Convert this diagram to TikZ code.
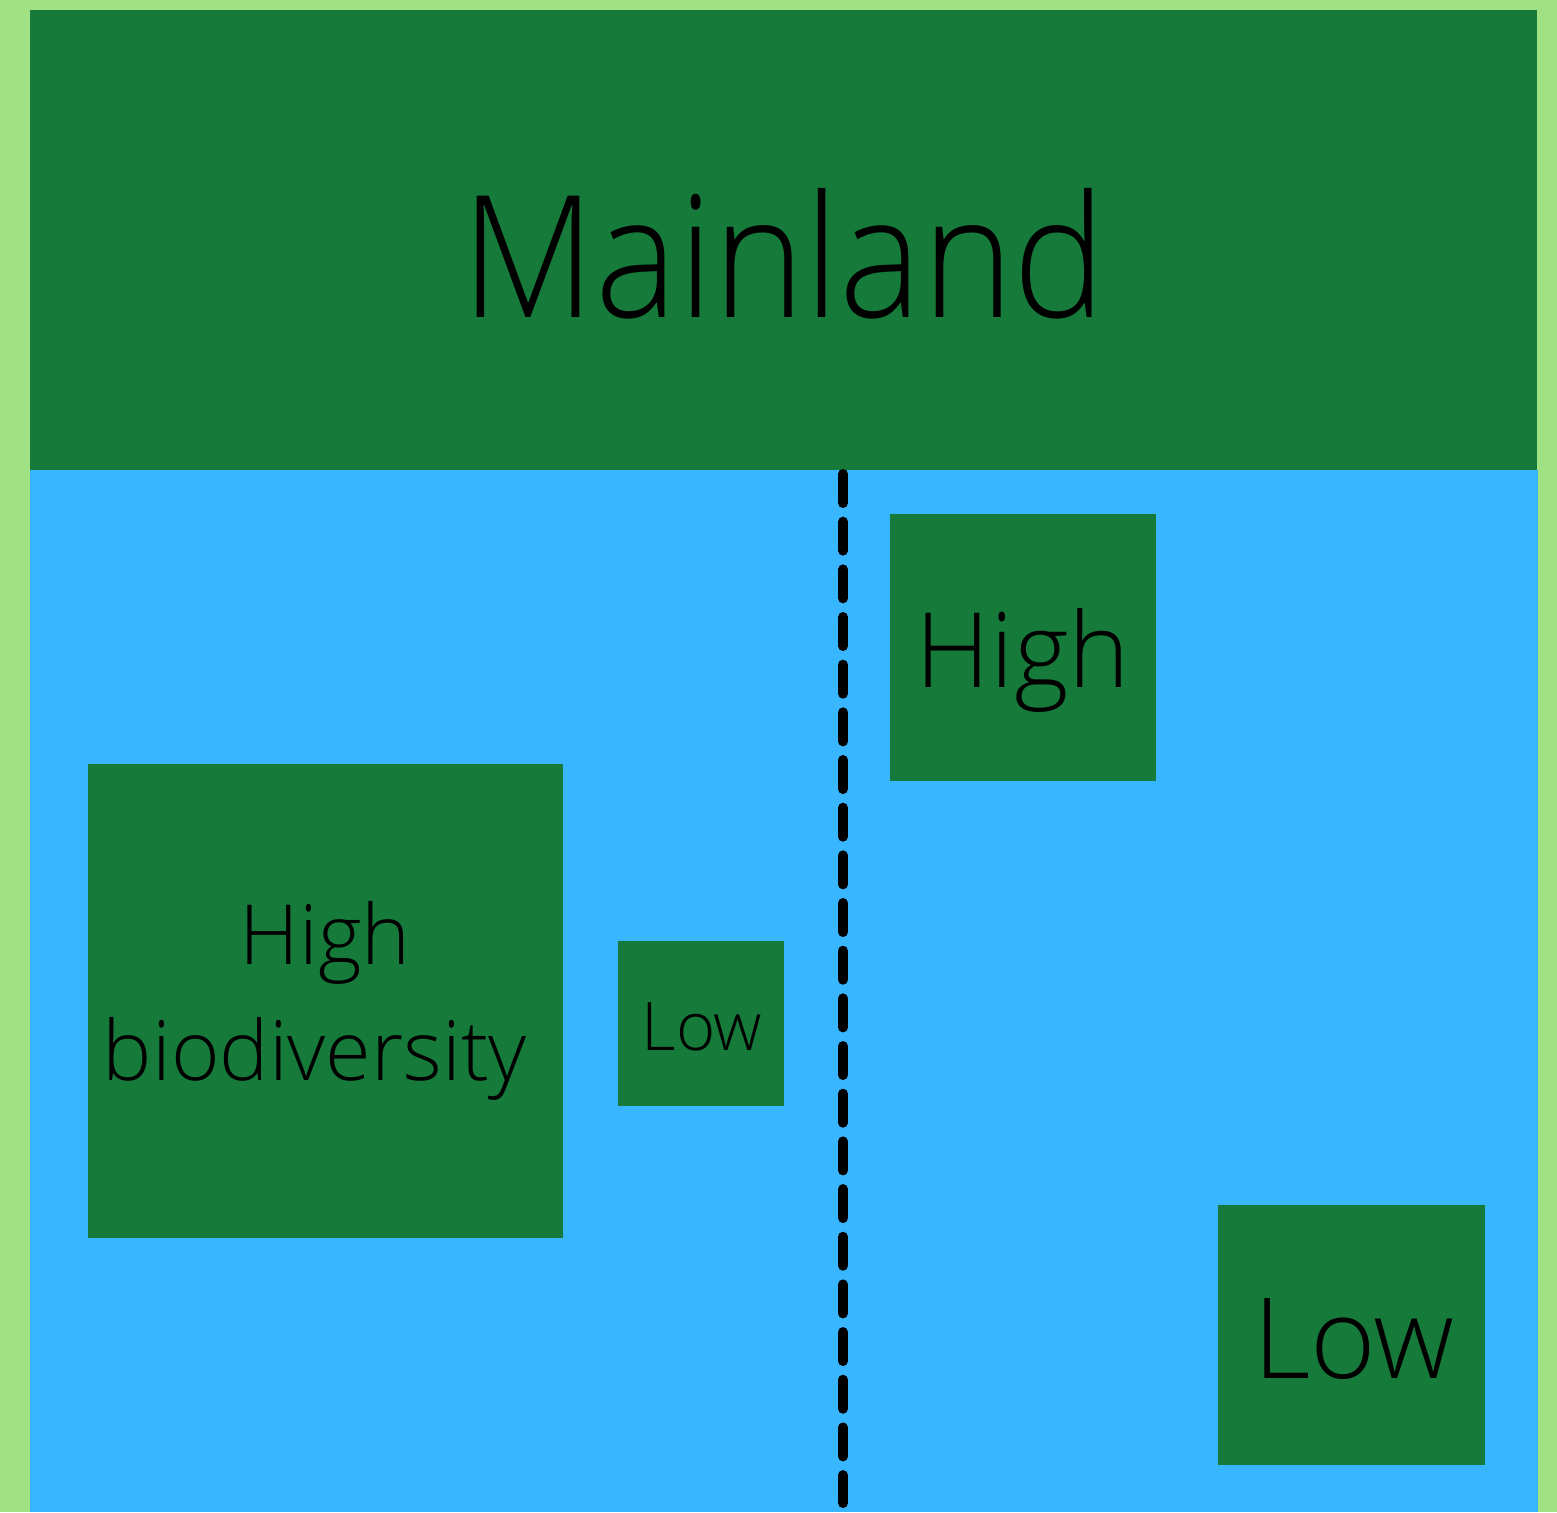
\documentclass[tikz,border=0pt]{standalone}
\usepackage{fontspec}
\setmainfont{Open Sans}[UprightFont={* Light}]
\newfontfamily\titlefont{Open Sans}[UprightFont={* Light},FakeStretch=0.913]
\definecolor{shore}{HTML}{A0E184}
\definecolor{land}{HTML}{167A3A}
\definecolor{sea}{HTML}{38B6FF}
\begin{document}
\begin{tikzpicture}[x=1pt,y=-1pt,
  island/.style={fill=land,draw=none,inner sep=0pt,anchor=north west},
  word/.style={anchor=base,inner sep=0pt,text=black}]
\useasboundingbox (0,0) rectangle (1557,1512);
% background frame, mainland band and sea
\fill[shore] (0,0) rectangle (1557,1512);
\fill[sea] (30,470) rectangle (1538,1512);
\node[island,minimum width=1507pt,minimum height=460pt] (main) at (30,10) {};
% islands
\node[island,minimum width=266pt,minimum height=267pt] (hiR) at (890,514) {};
\node[island,minimum width=475pt,minimum height=474pt] (hiL) at (88,764) {};
\node[island,minimum width=166pt,minimum height=165pt] (loL) at (618,941) {};
\node[island,minimum width=267pt,minimum height=260pt] (loR) at (1218,1205) {};
% dividing line
\coordinate (top) at (843,474);
\coordinate (bot) at (843,1503);
\draw[line width=10pt,line cap=round,dash pattern=on 29pt off 18.67pt] (top) -- (bot);
% labels
\node[word,font=\titlefont\fontsize{170}{170}\selectfont] (tm) at (784,317) {Mainland};
\node[word,font=\fontsize{104}{104}\selectfont] (th) at (1023,687) {High};
\node[word,font=\fontsize{67}{67}\selectfont] (tl) at (702,1050) {Low};
\node[word,font=\fontsize{112}{112}\selectfont] (tb) at (1354,1378) {Low};
\node[word,font=\fontsize{83}{83}\selectfont] (t1) at (325,964) {High};
\node[word,font=\fontsize{83}{83}\selectfont] (t2) at (315,1080) {biodiversity};
\end{tikzpicture}
\end{document}
